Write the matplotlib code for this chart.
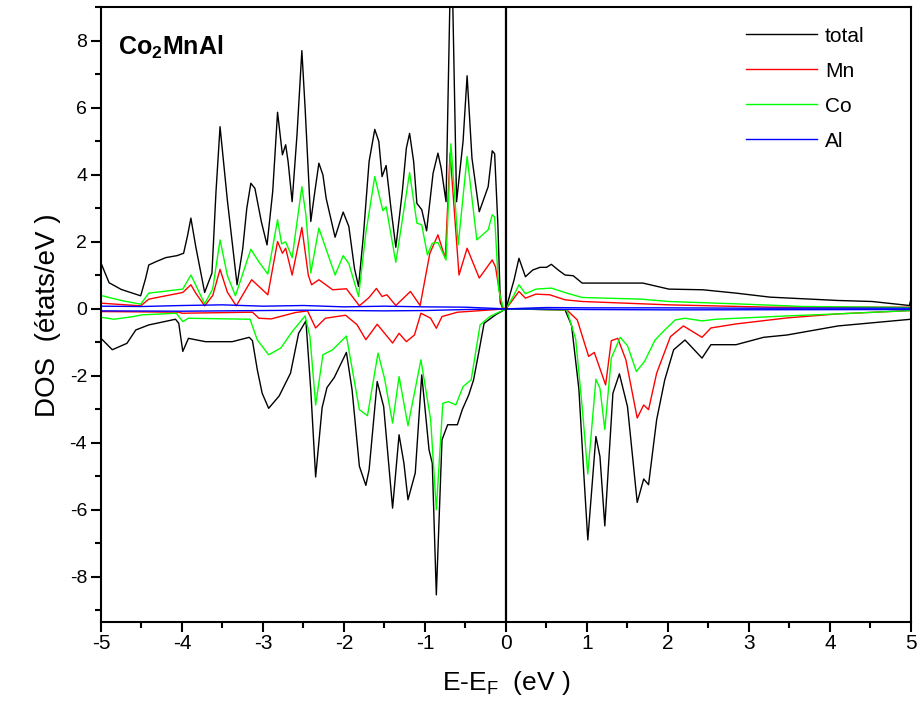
import matplotlib
matplotlib.use("Agg")
import matplotlib.pyplot as plt
from matplotlib.ticker import MultipleLocator

plt.rcParams['font.family'] = ['Liberation Sans', 'DejaVu Sans']
plt.rcParams['mathtext.fontset'] = 'custom'
plt.rcParams['mathtext.rm'] = 'Liberation Sans'
plt.rcParams['mathtext.bf'] = 'Liberation Sans:bold'
plt.rcParams['axes.unicode_minus'] = False

# DOS total (spin haut / spin bas)
total_up_E = [-5.0, -4.9, -4.75, -4.51, -4.45, -4.41, -4.32, -4.20, -4.06, -3.98, -3.93, -3.89, -3.83,
              -3.72, -3.63, -3.58, -3.53, -3.44, -3.32, -3.25, -3.2, -3.15, -3.1, -3.02, -2.95, -2.88,
              -2.82, -2.76, -2.72, -2.69, -2.64, -2.58, -2.52, -2.48, -2.41, -2.36, -2.31, -2.26, -2.22,
              -2.11, -2.05, -2.01, -1.94, -1.87, -1.82, -1.76, -1.69, -1.62, -1.57, -1.53, -1.48, -1.42,
              -1.36, -1.28, -1.23, -1.19, -1.14, -1.10, -1.04, -0.98, -0.90, -0.84, -0.80, -0.74, -0.675,
              -0.61, -0.53, -0.48, -0.42, -0.33, -0.22, -0.17, -0.14, -0.10, -0.07, -0.03, 0.0, 0.10,
              0.16, 0.24, 0.33, 0.42, 0.50, 0.56, 0.65, 0.73, 0.83, 0.94, 1.69, 2.01, 2.43, 2.84, 3.26,
              4.10, 4.52, 4.98, 5.0]
total_up_D = [1.37, 0.78, 0.58, 0.39, 0.9, 1.31, 1.41, 1.53, 1.59, 1.66, 2.2, 2.71, 1.86,
              0.49, 1.07, 3.5, 5.44, 3.25, 0.72, 1.8, 3.0, 3.75, 3.6, 2.6, 1.91, 3.5,
              5.87, 4.6, 4.9, 4.4, 3.2, 5.2, 7.71, 6.0, 2.61, 3.5, 4.35, 4.0, 3.3,
              2.14, 2.6, 2.89, 2.46, 1.2, 0.67, 2.2, 4.4, 5.36, 5.0, 3.95, 4.28, 3.0,
              1.84, 3.5, 4.8, 5.24, 4.4, 3.15, 2.96, 2.33, 4.05, 4.65, 4.2, 3.2, 11.4,
              3.2, 5.0, 6.96, 4.5, 2.9, 3.65, 4.72, 4.63, 2.5, 0.18, 0.0, 0.0, 0.87,
              1.51, 0.96, 1.16, 1.24, 1.24, 1.33, 1.15, 1.01, 0.99, 0.77, 0.77, 0.59, 0.57, 0.47, 0.35,
              0.25, 0.22, 0.10, 0.29]

total_dn_E = [-5.0, -4.86, -4.68, -4.57, -4.41, -4.08, -4.04, -3.99, -3.92, -3.71, -3.38, -3.17, -3.13,
              -3.07, -3.01, -2.93, -2.80, -2.66, -2.56, -2.47, -2.41, -2.35, -2.27, -2.21, -2.12, -1.97,
              -1.90, -1.81, -1.73, -1.69, -1.59, -1.51, -1.40, -1.32, -1.26, -1.21, -1.12, -1.04, -0.95,
              -0.91, -0.86, -0.79, -0.72, -0.60, -0.54, -0.46, -0.40, -0.33, -0.27, -0.13, 0.0, 0.73,
              0.81, 0.90, 0.96, 1.01, 1.11, 1.16, 1.22, 1.32, 1.40, 1.50, 1.62, 1.70, 1.76, 1.86, 1.96,
              2.07, 2.21, 2.42, 2.53, 2.84, 3.18, 3.47, 4.10, 5.0]
total_dn_D = [-0.88, -1.22, -1.03, -0.63, -0.48, -0.31, -0.43, -1.27, -0.88, -0.98, -0.98, -0.85, -0.95,
              -1.82, -2.52, -2.97, -2.60, -1.92, -0.73, -0.36, -2.42, -5.02, -2.95, -2.35, -2.05, -1.30,
              -2.42, -4.7, -5.27, -4.81, -2.17, -2.92, -5.95, -3.76, -4.61, -5.70, -4.9, -1.97, -4.21,
              -4.61, -8.54, -3.91, -3.46, -3.46, -3.01, -2.57, -2.12, -1.22, -0.43, -0.18, 0.0, -0.03,
              -0.5, -2.4, -4.9, -6.9, -3.81, -4.41, -6.48, -2.52, -1.94, -2.92, -5.78, -5.08, -5.25, -3.31, -2.12,
              -1.22, -0.93, -1.47, -1.07, -1.07, -0.85, -0.78, -0.51, -0.31]

# Mn
mn_up_E = [-5.0, -4.51, -4.41, -3.99, -3.89, -3.83, -3.72, -3.62, -3.53, -3.44, -3.33, -3.14, -2.94,
           -2.82, -2.76, -2.72, -2.64, -2.52, -2.44, -2.40, -2.31, -2.14, -1.97, -1.81, -1.69, -1.60,
           -1.53, -1.47, -1.36, -1.18, -1.06, -0.94, -0.84, -0.75, -0.69, -0.58, -0.48, -0.33, -0.17,
           -0.13, -0.05, 0.0, 0.16, 0.24, 0.37, 0.54, 0.73, 0.94, 2.01, 3.26, 5.0]
mn_up_D = [0.17, 0.09, 0.29, 0.49, 0.72, 0.47, 0.09, 0.4, 1.18, 0.5, 0.09, 0.87, 0.42,
           2.01, 1.66, 1.81, 1.01, 2.43, 1.0, 0.72, 0.87, 0.57, 0.6, 0.09, 0.34, 0.61,
           0.37, 0.42, 0.10, 0.52, 0.10, 1.66, 2.21, 1.51, 4.65, 1.01, 1.81, 0.92, 1.46,
           1.26, 0.05, 0.0, 0.52, 0.32, 0.44, 0.42, 0.27, 0.22, 0.12, 0.05, 0.05]

mn_dn_E = [-5.0, -4.04, -4.0, -3.13, -3.05, -2.90, -2.60, -2.45, -2.35, -2.23, -1.98, -1.84, -1.73,
           -1.59, -1.40, -1.32, -1.23, -1.13, -1.05, -0.93, -0.86, -0.79, -0.60, 0.0, 0.75, 0.88,
           1.02, 1.09, 1.23, 1.30, 1.38, 1.48, 1.62, 1.70, 1.76, 1.86, 2.03, 2.19, 2.42, 2.53, 2.84,
           3.47, 4.10, 5.0]
mn_dn_D = [-0.08, -0.10, -0.13, -0.10, -0.28, -0.30, -0.11, -0.06, -0.57, -0.28, -0.19, -0.47, -0.92,
           -0.46, -1.02, -0.73, -0.98, -0.78, -0.13, -0.28, -0.58, -0.23, -0.10, 0.0, -0.03, -0.33,
           -1.42, -1.3, -2.27, -0.95, -0.88, -1.52, -3.26, -2.87, -3.01, -1.92, -0.83, -0.51, -0.85, -0.57, -0.45,
           -0.27, -0.15, -0.05]

# Co
co_up_E = [-5.0, -4.75, -4.51, -4.41, -3.99, -3.89, -3.83, -3.72, -3.62, -3.53, -3.44, -3.34, -3.15,
           -3.05, -2.94, -2.82, -2.77, -2.72, -2.64, -2.52, -2.47, -2.41, -2.31, -2.11, -2.01, -1.94,
           -1.82, -1.73, -1.62, -1.52, -1.48, -1.36, -1.19, -1.10, -1.04, -0.97, -0.91, -0.84, -0.74,
           -0.68, -0.59, -0.48, -0.36, -0.22, -0.17, -0.14, -0.09, -0.03, 0.0, 0.10, 0.16, 0.24, 0.37,
           0.56, 0.75, 0.94, 1.67, 2.01, 2.84, 3.68, 5.0]
co_up_D = [0.40, 0.25, 0.14, 0.47, 0.59, 1.01, 0.71, 0.15, 0.6, 2.06, 1.0, 0.39, 1.78,
           1.4, 1.04, 2.66, 1.94, 2.0, 1.53, 3.65, 2.8, 1.07, 2.41, 1.01, 1.59, 1.35,
           0.37, 2.27, 3.95, 2.93, 3.05, 1.39, 4.07, 2.56, 2.51, 1.61, 1.96, 1.98, 1.46,
           4.93, 1.91, 4.55, 2.06, 2.36, 2.81, 2.74, 0.57, 0.0, 0.0, 0.42, 0.72, 0.45, 0.59,
           0.62, 0.47, 0.34, 0.29, 0.22, 0.15, 0.07, 0.04]

co_dn_E = [-5.0, -4.84, -4.6, -4.5, -4.07, -3.99, -3.92, -3.16, -3.07, -2.93, -2.78, -2.64, -2.48,
           -2.42, -2.35, -2.26, -2.14, -1.97, -1.81, -1.71, -1.58, -1.50, -1.40, -1.32, -1.21, -1.05,
           -0.93, -0.86, -0.78, -0.71, -0.62, -0.53, -0.43, -0.32, -0.20, 0.0, 0.75, 0.86, 0.94, 1.01,
           1.11, 1.16, 1.22, 1.30, 1.41, 1.50, 1.61, 1.71, 1.84, 1.96, 2.09, 2.21, 2.42, 2.59, 3.47,
           4.1, 5.0]
co_dn_D = [-0.25, -0.31, -0.23, -0.18, -0.13, -0.38, -0.28, -0.31, -0.93, -1.37, -1.17, -0.68, -0.21,
           -0.83, -2.87, -1.37, -1.22, -0.81, -3.01, -3.19, -1.32, -2.07, -3.41, -2.02, -3.49, -1.52,
           -3.31, -6.0, -2.82, -2.77, -2.87, -2.32, -2.12, -0.48, -0.23, 0.0, -0.03, -0.9, -2.92, -4.93,
           -2.1, -2.37, -3.6, -1.47, -0.85, -1.1, -1.87, -1.57, -0.93, -0.63, -0.33, -0.28, -0.36, -0.31, -0.21,
           -0.15, -0.05]

# Al
al_up_E = [-5.0, -4.5, -4.0, -3.5, -3.0, -2.5, -2.0, -1.5, -1.0, -0.5, 0.0, 0.5, 1.0, 2.0, 3.0, 5.0]
al_up_D = [0.08, 0.07, 0.10, 0.12, 0.08, 0.10, 0.06, 0.08, 0.06, 0.05, 0.0, 0.04, 0.03, 0.03, 0.02, 0.02]
al_dn_E = [-5.0, -4.0, -3.0, -2.5, -2.0, -1.5, -1.0, -0.5, 0.0, 1.0, 2.0, 5.0]
al_dn_D = [-0.06, -0.07, -0.05, -0.04, -0.05, -0.06, -0.05, -0.02, 0.0, -0.02, -0.03, -0.02]

fig = plt.figure(figsize=(9.23, 7.04), dpi=100)
ax = fig.add_axes([0.1094, 0.1165, 0.8776, 0.8729])

lw = 1.0
ax.plot(total_up_E, total_up_D, color='black', lw=lw, label='total')
ax.plot(total_dn_E, total_dn_D, color='black', lw=lw)
ax.plot(mn_up_E, mn_up_D, color='#ff0000', lw=lw, label='Mn')
ax.plot(mn_dn_E, mn_dn_D, color='#ff0000', lw=lw)
ax.plot(co_up_E, co_up_D, color='#00ff00', lw=lw, label='Co')
ax.plot(co_dn_E, co_dn_D, color='#00ff00', lw=lw)
ax.plot(al_up_E, al_up_D, color='#0000ff', lw=lw, label='Al')
ax.plot(al_dn_E, al_dn_D, color='#0000ff', lw=lw)

ax.axvline(0, color='black', lw=1.6)  # niveau de Fermi

ax.set_xlim(-5, 5)
ax.set_ylim(-9.35, 9.0)
ax.xaxis.set_major_locator(MultipleLocator(1))
ax.xaxis.set_minor_locator(MultipleLocator(0.5))
ax.yaxis.set_major_locator(MultipleLocator(2))
ax.yaxis.set_minor_locator(MultipleLocator(1))
ax.tick_params(which='both', direction='out', top=False, right=False, width=1.5)
ax.tick_params(which='major', length=7)
ax.tick_params(which='minor', length=4)
ax.tick_params(axis='y', labelsize=14, pad=3)
ax.tick_params(axis='x', labelsize=15, pad=2)
for s in ax.spines.values():
    s.set_linewidth(1.5)

ax.set_xlabel(r'E-E$_\mathrm{F}$  (eV )', fontsize=19, labelpad=11)
ax.set_ylabel('DOS  (états/eV )', fontsize=20, labelpad=6)

ax.text(0.021, 0.935, r'$\mathbf{Co_2MnAl}$', transform=ax.transAxes,
        fontsize=18, va='center', ha='left')

ax.legend(loc='upper left', bbox_to_anchor=(0.796, 0.969), frameon=False, fontsize=15,
          handlelength=3.4, handletextpad=0.4, labelspacing=0.77, borderpad=0, borderaxespad=0)

fig.savefig('out.png', dpi=100)
